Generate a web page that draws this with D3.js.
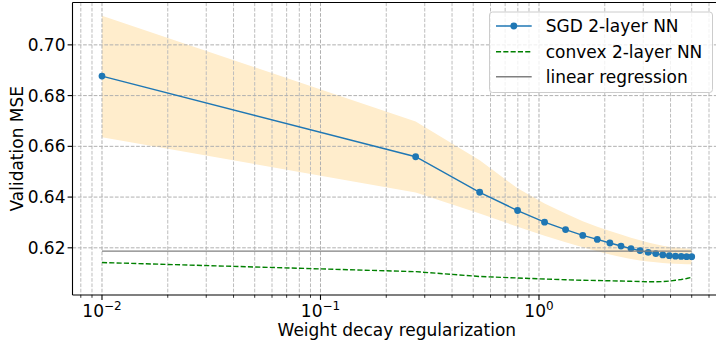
<!DOCTYPE html>
<html>
<head>
<meta charset="utf-8">
<script src="https://cdn.jsdelivr.net/npm/d3@7"></script>
<style>
  html, body { margin: 0; padding: 0; background: #fff; }
  text { font-family: "DejaVu Sans", sans-serif; fill: #000; }
</style>
</head>
<body>
<div id="chart"></div>
<script>
// weight decay values (x)
const lambdas = [0.01, 0.2726, 0.5353, 0.7979, 1.0605, 1.3232, 1.5858, 1.8484, 2.1111, 2.3737,
                 2.6363, 2.899, 3.1616, 3.4242, 3.6868, 3.9495, 4.2121, 4.4747, 4.7374, 5.0];

// SGD 2-layer NN : mean and band
const sgdMse   = [0.6877, 0.6559, 0.6419, 0.6347, 0.6301, 0.6272, 0.6249, 0.6233, 0.6219, 0.6207,
                  0.6197, 0.6189, 0.6182, 0.6177, 0.6172, 0.6169, 0.6167, 0.6166, 0.6165, 0.6165];
const sgdUpper = [0.7115, 0.6698, 0.6545, 0.6435, 0.6375, 0.6335, 0.6305, 0.6283, 0.6266, 0.6252,
                  0.6240, 0.6230, 0.6221, 0.6214, 0.6208, 0.6204, 0.6201, 0.6199, 0.6197, 0.6196];
const sgdLower = [0.6636, 0.6418, 0.6335, 0.6283, 0.6248, 0.6222, 0.6202, 0.6186, 0.6174, 0.6164,
                  0.6156, 0.6150, 0.6146, 0.6143, 0.6140, 0.6138, 0.6137, 0.6136, 0.6135, 0.6135];

// convex 2-layer NN
const convexMse = [0.6142, 0.6106, 0.6087, 0.6081, 0.6077, 0.6074, 0.6072, 0.6071, 0.6070, 0.6069,
                   0.6068, 0.6067, 0.6066, 0.6066, 0.6067, 0.6069, 0.6072, 0.6075, 0.6079, 0.6084];

// linear regression
const linearLambdas = [0.01, 5.0];
const linearMse = [0.6187, 0.6187];

// ticks
const yTicks = [0.62, 0.64, 0.66, 0.68, 0.70];
const xMajorTicks = [0.01, 0.1, 1];
const xTickExps = ["\u22122", "\u22121", "0"];

const legendLabels = ["SGD 2-layer NN", "convex 2-layer NN", "linear regression"];

const W = 716, H = 345;
const plot = { left: 72.5, right: 721.2, top: 2.5, bottom: 295 };
const fs = "17px";

const svg = d3.select("#chart").append("svg")
  .attr("width", W)
  .attr("height", H);

svg.append("rect").attr("width", W).attr("height", H).attr("fill", "#fff");

const x = d3.scaleLog()
  .domain([Math.pow(10, -2.13495), Math.pow(10, 0.83392)])
  .range([plot.left, plot.right]);
const y = d3.scaleLinear()
  .domain([0.6014, 0.7167])
  .range([plot.bottom, plot.top]);

svg.append("clipPath").attr("id", "clip")
  .append("rect")
  .attr("x", plot.left).attr("y", plot.top)
  .attr("width", plot.right - plot.left).attr("height", plot.bottom - plot.top);

const g = svg.append("g").attr("clip-path", "url(#clip)");

const rows = lambdas.map((l, i) => ({ x: l, m: sgdMse[i], lo: sgdLower[i], hi: sgdUpper[i], c: convexMse[i] }));

// band
const area = d3.area()
  .x(d => x(d.x))
  .y0(d => y(d.lo))
  .y1(d => y(d.hi));

g.append("path")
  .datum(rows)
  .attr("fill", "#ffedcc")
  .attr("d", area);

// grid - minor vertical
const minorTicks = x.ticks().filter(t => xMajorTicks.indexOf(t) < 0);
g.selectAll(".grid-minor")
  .data(minorTicks)
  .enter().append("line")
  .attr("x1", d => x(d)).attr("x2", d => x(d))
  .attr("y1", plot.top).attr("y2", plot.bottom)
  .attr("stroke", "#bdbdbd")
  .attr("stroke-width", 1)
  .attr("stroke-dasharray", "3.7,1.6");

// grid - major
g.selectAll(".grid-x")
  .data(xMajorTicks)
  .enter().append("line")
  .attr("x1", d => x(d)).attr("x2", d => x(d))
  .attr("y1", plot.top).attr("y2", plot.bottom)
  .attr("stroke", "#b0b0b0")
  .attr("stroke-width", 1)
  .attr("stroke-dasharray", "3.7,1.6");

g.selectAll(".grid-y")
  .data(yTicks)
  .enter().append("line")
  .attr("x1", plot.left).attr("x2", plot.right)
  .attr("y1", d => y(d)).attr("y2", d => y(d))
  .attr("stroke", "#b0b0b0")
  .attr("stroke-width", 1)
  .attr("stroke-dasharray", "3.7,1.6");

// lines
const line = d3.line().x(d => x(d[0])).y(d => y(d[1]));

g.append("path")
  .datum(rows.map(d => [d.x, d.m]))
  .attr("fill", "none")
  .attr("stroke", "#1f77b4")
  .attr("stroke-width", 1.4)
  .attr("d", line);

g.selectAll(".dot")
  .data(rows)
  .enter().append("circle")
  .attr("cx", d => x(d.x))
  .attr("cy", d => y(d.m))
  .attr("r", 3.4)
  .attr("fill", "#1f77b4");

g.append("path")
  .datum(rows.map(d => [d.x, d.c]))
  .attr("fill", "none")
  .attr("stroke", "#008000")
  .attr("stroke-width", 1.4)
  .attr("stroke-dasharray", "5.1,2.2")
  .attr("d", line);

g.append("path")
  .datum(linearLambdas.map((l, i) => [l, linearMse[i]]))
  .attr("fill", "none")
  .attr("stroke", "#808080")
  .attr("stroke-width", 1.4)
  .attr("d", line);

// spines
const axisColor = "#000";
svg.append("line").attr("x1", plot.left).attr("x2", plot.right)
  .attr("y1", plot.bottom).attr("y2", plot.bottom)
  .attr("stroke", axisColor).attr("stroke-width", 1.1);
svg.append("line").attr("x1", plot.left).attr("x2", plot.right)
  .attr("y1", plot.top).attr("y2", plot.top)
  .attr("stroke", axisColor).attr("stroke-width", 1.1);
svg.append("line").attr("x1", plot.left).attr("x2", plot.left)
  .attr("y1", plot.top).attr("y2", plot.bottom)
  .attr("stroke", axisColor).attr("stroke-width", 1.1);

// x ticks
svg.selectAll(".xtick-minor")
  .data(minorTicks)
  .enter().append("line")
  .attr("x1", d => x(d)).attr("x2", d => x(d))
  .attr("y1", plot.bottom).attr("y2", plot.bottom + 2.8)
  .attr("stroke", axisColor).attr("stroke-width", 0.8);

svg.selectAll(".xtick")
  .data(xMajorTicks)
  .enter().append("line")
  .attr("x1", d => x(d)).attr("x2", d => x(d))
  .attr("y1", plot.bottom).attr("y2", plot.bottom + 4.9)
  .attr("stroke", axisColor).attr("stroke-width", 1.1);

const xLabels = svg.selectAll(".xlabel")
  .data(xMajorTicks)
  .enter().append("text")
  .attr("x", d => x(d))
  .attr("y", 317)
  .attr("text-anchor", "middle")
  .style("font-size", fs);
xLabels.append("tspan").text("10");
xLabels.append("tspan")
  .attr("dy", -7)
  .style("font-size", "12px")
  .text((d, i) => xTickExps[i]);

// y ticks
svg.selectAll(".ytick")
  .data(yTicks)
  .enter().append("line")
  .attr("x1", plot.left - 4.9).attr("x2", plot.left)
  .attr("y1", d => y(d)).attr("y2", d => y(d))
  .attr("stroke", axisColor).attr("stroke-width", 1.1);

svg.selectAll(".ylabel")
  .data(yTicks)
  .enter().append("text")
  .attr("x", 65.5)
  .attr("y", d => y(d) + 6)
  .attr("text-anchor", "end")
  .style("font-size", fs)
  .text(d => d3.format(".2f")(d));

// axis titles
svg.append("text")
  .attr("x", (plot.left + plot.right) / 2)
  .attr("y", 336)
  .attr("text-anchor", "middle")
  .style("font-size", fs)
  .text("Weight decay regularization");

svg.append("text")
  .attr("transform", "translate(22.5," + ((plot.top + plot.bottom) / 2) + ") rotate(-90)")
  .attr("text-anchor", "middle")
  .style("font-size", fs)
  .text("Validation MSE");

// legend
const lg = svg.append("g");
lg.append("rect")
  .attr("x", 489.5).attr("y", 12)
  .attr("width", 223).attr("height", 80.5)
  .attr("rx", 3)
  .attr("fill", "#fff").attr("fill-opacity", 0.8)
  .attr("stroke", "#cccccc").attr("stroke-width", 1);

const rowY = [26, 51.7, 76.7];
lg.append("line").attr("x1", 496).attr("x2", 531.7).attr("y1", rowY[0]).attr("y2", rowY[0])
  .attr("stroke", "#1f77b4").attr("stroke-width", 1.4);
lg.append("circle").attr("cx", 513.8).attr("cy", rowY[0]).attr("r", 3.4).attr("fill", "#1f77b4");
lg.append("line").attr("x1", 496).attr("x2", 531.7).attr("y1", rowY[1]).attr("y2", rowY[1])
  .attr("stroke", "#008000").attr("stroke-width", 1.4).attr("stroke-dasharray", "5.1,2.2");
lg.append("line").attr("x1", 496).attr("x2", 531.7).attr("y1", rowY[2]).attr("y2", rowY[2])
  .attr("stroke", "#808080").attr("stroke-width", 1.4);

lg.selectAll(".lt")
  .data(legendLabels)
  .enter().append("text")
  .attr("x", 545.7)
  .attr("y", (d, i) => rowY[i] + 6)
  .style("font-size", fs)
  .text(d => d);
</script>
</body>
</html>
